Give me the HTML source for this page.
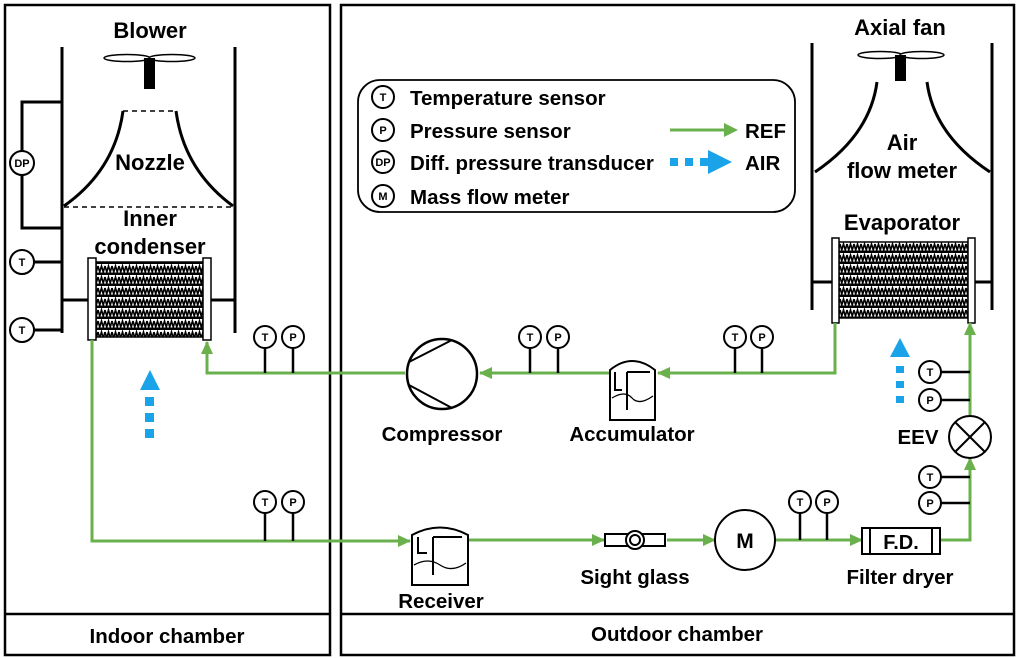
<!DOCTYPE html>
<html><head><meta charset="utf-8"><style>
html,body{margin:0;padding:0;background:#fff;}
svg{display:block;font-family:"Liberation Sans",Arial,sans-serif;font-weight:bold;}
</style></head><body>
<svg width="1019" height="658" viewBox="0 0 1019 658" xmlns="http://www.w3.org/2000/svg">
<defs>
<marker id="ga" markerWidth="14" markerHeight="12" refX="12" refY="6" orient="auto" markerUnits="userSpaceOnUse"><path d="M0,0 L13,6 L0,12z" fill="#6ab04c"/></marker>
<pattern id="zz" width="7" height="11" patternUnits="userSpaceOnUse"><rect width="7" height="11" fill="#fff"/><path d="M0,2 L1.75,8 L3.5,2 L5.25,8 L7,2" stroke="#000" stroke-width="1.6" fill="none"/><rect y="8.5" width="7" height="2.5" fill="#000"/></pattern>
</defs>
<g fill="none" stroke="#000" stroke-width="2.5">
<rect x="5" y="5" width="325" height="650"/>
<rect x="341" y="5" width="673" height="650"/>
<line x1="5" y1="614" x2="330" y2="614"/>
<line x1="341" y1="614" x2="1014" y2="614"/>
</g>
<g font-size="20.5" text-anchor="middle" fill="#000">
<text x="167" y="643">Indoor chamber</text>
<text x="677" y="641">Outdoor chamber</text>
<text x="150" y="38" font-size="22">Blower</text>
<text x="150" y="170" font-size="22">Nozzle</text>
<text x="150" y="226" font-size="22">Inner</text>
<text x="150" y="254" font-size="22">condenser</text>
<text x="900" y="35" font-size="22">Axial fan</text>
<text x="902" y="150" font-size="22">Air</text>
<text x="902" y="178" font-size="22">flow meter</text>
<text x="902" y="230" font-size="22">Evaporator</text>
<text x="442" y="441">Compressor</text>
<text x="632" y="441">Accumulator</text>
<text x="441" y="608">Receiver</text>
<text x="635" y="584">Sight glass</text>
<text x="900" y="584">Filter dryer</text>
<text x="918" y="444">EEV</text>
</g>
<g stroke="#000" stroke-width="3" fill="none">
<line x1="62" y1="47" x2="62" y2="333"/>
<line x1="235" y1="47" x2="235" y2="333"/>
<path d="M123,111 Q115,170 64,206"/>
<path d="M176,111 Q184,170 233,206"/>
<path d="M62,102 H22 V228 H62"/>
<line x1="22" y1="262" x2="62" y2="262"/>
<line x1="22" y1="330" x2="62" y2="330"/>
<line x1="62" y1="300" x2="88" y2="300"/>
<line x1="211" y1="300" x2="235" y2="300"/>
</g>
<g stroke="#000" stroke-width="1.5" stroke-dasharray="5,4"><line x1="123" y1="111" x2="176" y2="111"/><line x1="64" y1="207" x2="235" y2="207"/></g>
<ellipse cx="127" cy="58" rx="23" ry="3.5" fill="#fff" stroke="#000" stroke-width="1.5"/>
<ellipse cx="172" cy="58" rx="23" ry="3.5" fill="#fff" stroke="#000" stroke-width="1.5"/>
<rect x="144" y="58" width="11" height="31" fill="#000"/>
<g font-size="11" text-anchor="middle">
<circle cx="22" cy="163" r="12" fill="#fff" stroke="#000" stroke-width="2"/><text x="22" y="167">DP</text>
<circle cx="22" cy="262" r="12" fill="#fff" stroke="#000" stroke-width="2"/><text x="22" y="266">T</text>
<circle cx="22" cy="330" r="12" fill="#fff" stroke="#000" stroke-width="2"/><text x="22" y="334">T</text>
</g>
<rect x="96" y="262" width="107" height="75" fill="url(#zz)" stroke="#000" stroke-width="1.5"/>
<rect x="88" y="258" width="8" height="82" fill="#fff" stroke="#000" stroke-width="1.5"/>
<rect x="203" y="258" width="8" height="82" fill="#fff" stroke="#000" stroke-width="1.5"/>
<g stroke="#000" stroke-width="3" fill="none">
<line x1="812" y1="43" x2="812" y2="310"/>
<line x1="992" y1="43" x2="992" y2="310"/>
<path d="M877,82 Q870,135 815,172"/>
<path d="M927,82 Q934,135 990,172"/>
<line x1="812" y1="282" x2="832" y2="282"/>
<line x1="975" y1="282" x2="992" y2="282"/>
</g>
<ellipse cx="880" cy="55" rx="22" ry="3.5" fill="#fff" stroke="#000" stroke-width="1.5"/>
<ellipse cx="922" cy="55" rx="22" ry="3.5" fill="#fff" stroke="#000" stroke-width="1.5"/>
<rect x="895" y="55" width="11" height="26" fill="#000"/>
<rect x="839" y="242" width="129" height="76" fill="url(#zz)" stroke="#000" stroke-width="1.5"/>
<rect x="832" y="238" width="7" height="85" fill="#fff" stroke="#000" stroke-width="1.5"/>
<rect x="968" y="238" width="7" height="85" fill="#fff" stroke="#000" stroke-width="1.5"/>
<g stroke="#6ab04c" stroke-width="3" fill="none">
<path d="M92,340 V541 H410" marker-end="url(#ga)"/>
<path d="M405,373 H207 V342" marker-end="url(#ga)"/>
<path d="M610,373 H480" marker-end="url(#ga)"/>
<path d="M835,323 V373 H658" marker-end="url(#ga)"/>
<path d="M468,540 H604" marker-end="url(#ga)"/>
<path d="M667,540 H715" marker-end="url(#ga)"/>
<path d="M775,540 H862" marker-end="url(#ga)"/>
<path d="M940,540 H970 V458" marker-end="url(#ga)"/>
<path d="M970,416 V323" marker-end="url(#ga)"/>
</g>
<g stroke="#000" stroke-width="2.5">
<line x1="265" y1="348" x2="265" y2="373"/><line x1="293" y1="348" x2="293" y2="373"/>
<line x1="530" y1="348" x2="530" y2="373"/><line x1="558" y1="348" x2="558" y2="373"/>
<line x1="735" y1="348" x2="735" y2="373"/><line x1="762" y1="348" x2="762" y2="373"/>
<line x1="265" y1="513" x2="265" y2="541"/><line x1="293" y1="513" x2="293" y2="541"/>
<line x1="800" y1="513" x2="800" y2="540"/><line x1="827" y1="513" x2="827" y2="540"/>
<line x1="941" y1="372" x2="970" y2="372"/><line x1="941" y1="400" x2="970" y2="400"/>
<line x1="941" y1="477" x2="970" y2="477"/><line x1="941" y1="503" x2="970" y2="503"/>
</g>
<g font-size="11" text-anchor="middle" stroke-width="2">
<g><circle cx="265" cy="337" r="11" fill="#fff" stroke="#000"/><text x="265" y="341">T</text><circle cx="293" cy="337" r="11" fill="#fff" stroke="#000"/><text x="293" y="341">P</text></g>
<g><circle cx="530" cy="337" r="11" fill="#fff" stroke="#000"/><text x="530" y="341">T</text><circle cx="558" cy="337" r="11" fill="#fff" stroke="#000"/><text x="558" y="341">P</text></g>
<g><circle cx="735" cy="337" r="11" fill="#fff" stroke="#000"/><text x="735" y="341">T</text><circle cx="762" cy="337" r="11" fill="#fff" stroke="#000"/><text x="762" y="341">P</text></g>
<g><circle cx="265" cy="502" r="11" fill="#fff" stroke="#000"/><text x="265" y="506">T</text><circle cx="293" cy="502" r="11" fill="#fff" stroke="#000"/><text x="293" y="506">P</text></g>
<g><circle cx="800" cy="502" r="11" fill="#fff" stroke="#000"/><text x="800" y="506">T</text><circle cx="827" cy="502" r="11" fill="#fff" stroke="#000"/><text x="827" y="506">P</text></g>
<g><circle cx="930" cy="372" r="11" fill="#fff" stroke="#000"/><text x="930" y="376">T</text><circle cx="930" cy="400" r="11" fill="#fff" stroke="#000"/><text x="930" y="404">P</text></g>
<g><circle cx="930" cy="477" r="11" fill="#fff" stroke="#000"/><text x="930" y="481">T</text><circle cx="930" cy="503" r="11" fill="#fff" stroke="#000"/><text x="930" y="507">P</text></g>
</g>
<circle cx="442" cy="374" r="35" fill="#fff" stroke="#000" stroke-width="2.5"/>
<line x1="409" y1="362" x2="452" y2="340" stroke="#000" stroke-width="2"/>
<line x1="409" y1="385" x2="452" y2="408" stroke="#000" stroke-width="2"/>
<g stroke="#000" stroke-width="2" fill="#fff">
<path d="M610,420 V370 Q632,352 655,370 V420 Z"/>
<path d="M615,372 V390 H622 M627,372 V410 M627,372 H650" fill="none"/>
<path d="M612,398 Q625,390 632,398 T653,396" fill="none" stroke-width="1.3"/>
<path d="M412,585 V535 Q440,520 468,535 V585 Z"/>
<path d="M418,537 V553 H427 M433,537 V575 M433,537 H462" fill="none"/>
<path d="M414,565 Q428,557 440,565 T466,563" fill="none" stroke-width="1.3"/>
<rect x="605" y="534" width="60" height="12"/>
<circle cx="635" cy="540" r="9"/><circle cx="635" cy="540" r="5"/>
<circle cx="745" cy="540" r="30"/>
<rect x="862" y="528" width="78" height="26"/>
<line x1="870" y1="528" x2="870" y2="554"/><line x1="932" y1="528" x2="932" y2="554"/>
<circle cx="970" cy="437" r="21"/>
<line x1="955" y1="422" x2="985" y2="452"/><line x1="985" y1="422" x2="955" y2="452"/>
</g>
<text x="745" y="548" font-size="21" text-anchor="middle">M</text>
<text x="901" y="549" font-size="20" text-anchor="middle">F.D.</text>
<g fill="#1aa3e8">
<polygon points="150,370 140,390 160,390"/>
<rect x="145" y="397" width="9" height="9"/><rect x="145" y="413" width="9" height="9"/><rect x="145" y="429" width="9" height="9"/>
<polygon points="900,338 890,357 910,357"/>
<rect x="896" y="366" width="8" height="7"/><rect x="896" y="381" width="8" height="7"/><rect x="896" y="396" width="8" height="7"/>
</g>
<rect x="358" y="80" width="437" height="132" rx="22" fill="none" stroke="#000" stroke-width="1.8"/>
<g font-size="11" text-anchor="middle" stroke-width="2">
<circle cx="383" cy="97" r="11" fill="#fff" stroke="#000"/><text x="383" y="101">T</text>
<circle cx="383" cy="130" r="11" fill="#fff" stroke="#000"/><text x="383" y="134">P</text>
<circle cx="383" cy="162" r="11" fill="#fff" stroke="#000"/><text x="383" y="166">DP</text>
<circle cx="383" cy="196" r="11" fill="#fff" stroke="#000"/><text x="383" y="200">M</text>
</g>
<g font-size="20.5">
<text x="410" y="105">Temperature sensor</text>
<text x="410" y="138">Pressure sensor</text>
<text x="410" y="170">Diff. pressure transducer</text>
<text x="410" y="204">Mass flow meter</text>
<text x="745" y="138">REF</text>
<text x="745" y="170">AIR</text>
</g>
<line x1="670" y1="130" x2="728" y2="130" stroke="#6ab04c" stroke-width="3"/>
<polygon points="738,130 724,123 724,137" fill="#6ab04c"/>
<g fill="#1aa3e8"><rect x="670" y="158" width="8" height="8"/><rect x="685" y="158" width="8" height="8"/><rect x="700" y="158" width="8" height="8"/><polygon points="708,150 732,162 708,174"/></g>
</svg>
</body></html>
